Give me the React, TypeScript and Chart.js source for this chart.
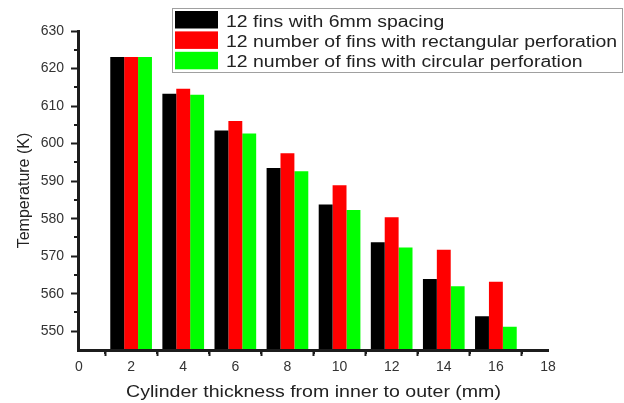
import React, { useEffect, useRef } from "react";
import { Chart, registerables } from "chart.js";

Chart.register(...registerables);

const thickness = [2, 4, 6, 8, 10, 12, 14, 16];
const seriesLabels = [
  "12 fins with 6mm spacing",
  "12 number of fins with rectangular perforation",
  "12 number of fins with circular perforation",
];
const plainFins = [623.1, 613.3, 603.5, 593.5, 583.8, 573.7, 563.9, 554.0];
const rectPerf = [623.1, 614.6, 606.0, 597.4, 588.9, 580.4, 571.7, 563.2];
const circPerf = [623.1, 613.0, 602.7, 592.6, 582.3, 572.3, 562.0, 551.2];
const seriesColors = ["#000000", "#ff0000", "#00ff00"];
const xTicks = [0, 2, 4, 6, 8, 10, 12, 14, 16, 18];
const xMinorTicks = [1, 3, 5, 7, 9, 11, 13, 15, 17];
const yTicks = [550, 560, 570, 580, 590, 600, 610, 620, 630];
const yMinorTicks = [555, 565, 575, 585, 595, 605, 615, 625];
const xTitle = "Cylinder thickness from inner to outer (mm)";
const yTitle = "Temperature (K)";

const FONT = "'Liberation Sans', Arial, sans-serif";
const AXIS_COLOR = "#1c1c1c";

const axesPlugin = {
  id: "axesAndMinor",
  afterDraw(chart: any) {
    const { ctx, scales } = chart;
    const xs = scales.x;
    const ys = scales.y;
    const L = Math.round(xs.left);
    const B = Math.round(ys.bottom);
    const T = Math.round(ys.top);
    const R = Math.round(xs.right);
    ctx.save();
    ctx.fillStyle = AXIS_COLOR;
    // axis lines
    ctx.fillRect(L - 2, T - 1, 3, B - T + 2);
    ctx.fillRect(L - 2, B - 1, R - L + 3, 3);
    // minor ticks
    xMinorTicks.forEach((v) => {
      const px = Math.round(xs.getPixelForValue(v));
      ctx.fillRect(px - 1, B, 2, 4);
    });
    yMinorTicks.forEach((v) => {
      const py = Math.round(ys.getPixelForValue(v));
      ctx.fillRect(L - 5, py - 1, 5, 2);
    });

    // x axis title (horizontally stretched like the reference)
    ctx.fillStyle = "#222";
    ctx.font = `17px ${FONT}`;
    ctx.textBaseline = "alphabetic";
    ctx.textAlign = "center";
    const cx = (xs.left + xs.right) / 2;
    ctx.save();
    ctx.translate(cx, 397);
    ctx.scale(1.15, 1);
    ctx.fillText(xTitle, 0, 0);
    ctx.restore();
    ctx.restore();
  },
};

const boxLegendPlugin = {
  id: "boxLegend",
  afterDraw(chart: any) {
    const { ctx } = chart;
    const left = 172;
    const top = 8;
    const w = 450;
    const h = 64;
    ctx.save();
    ctx.fillStyle = "#ffffff";
    ctx.fillRect(left, top, w, h);
    ctx.strokeStyle = "#a0a0a0";
    ctx.lineWidth = 1;
    ctx.strokeRect(left + 0.5, top + 0.5, w, h);
    ctx.font = `16px ${FONT}`;
    ctx.textBaseline = "alphabetic";
    ctx.textAlign = "left";
    chart.data.datasets.forEach((ds: any, i: number) => {
      const y = top + 3 + i * 20.4;
      ctx.fillStyle = ds.backgroundColor;
      ctx.fillRect(left + 3, y, 43, 17.5);
      ctx.fillStyle = "#222";
      ctx.save();
      ctx.translate(left + 54, y + 15.5);
      ctx.scale(1.215, 1);
      ctx.fillText(ds.label, 0, 0);
      ctx.restore();
    });
    ctx.restore();
  },
};

export default function App() {
  const ref = useRef<HTMLCanvasElement>(null);
  useEffect(() => {
    document.body.style.margin = "0";
    const datasetsValues = [plainFins, rectPerf, circPerf];
    const chart = new Chart(ref.current!, {
      type: "bar",
      data: {
        datasets: datasetsValues.map((vals, i) => ({
          label: seriesLabels[i],
          data: thickness.map((t, j) => ({ x: t, y: vals[j] })),
          backgroundColor: seriesColors[i],
          borderWidth: 0,
          categoryPercentage: 0.8,
          barPercentage: 1.0,
        })),
      },
      options: {
        animation: false,
        responsive: false,
        layout: { padding: { top: 31, right: 76, left: 0, bottom: 0 } },
        plugins: { legend: { display: false }, tooltip: { enabled: false } },
        scales: {
          x: {
            type: "linear",
            offset: false,
            min: 0,
            max: 18,
            afterBuildTicks: (s: any) => {
              s.ticks = xTicks.map((v) => ({ value: v }));
            },
            afterFit: (s: any) => {
              s.height = 53;
            },
            grid: {
              drawOnChartArea: false,
              drawTicks: true,
              tickLength: 6,
              tickWidth: 2,
              tickColor: AXIS_COLOR,
            },
            border: { display: false },
            ticks: {
              color: "#333",
              font: { family: FONT, size: 14 },
              padding: 3,
              maxRotation: 0,
              autoSkip: false,
            },
          },
          y: {
            type: "linear",
            min: 545,
            max: 630,
            afterBuildTicks: (s: any) => {
              s.ticks = yTicks.map((v) => ({ value: v }));
            },
            afterFit: (s: any) => {
              s.width = 79;
            },
            grid: {
              drawOnChartArea: false,
              drawTicks: true,
              tickLength: 8,
              tickWidth: 2,
              tickColor: AXIS_COLOR,
            },
            border: { display: false },
            ticks: {
              color: "#333",
              font: { family: FONT, size: 14 },
              padding: 7,
            },
            title: {
              display: true,
              text: yTitle,
              color: "#222",
              font: { family: FONT, size: 16 },
              padding: { top: 15, bottom: 0 },
            },
          },
        },
      },
      plugins: [axesPlugin, boxLegendPlugin],
    } as any);
    return () => chart.destroy();
  }, []);
  return <canvas ref={ref} width={624} height={403} style={{ display: "block" }} />;
}
